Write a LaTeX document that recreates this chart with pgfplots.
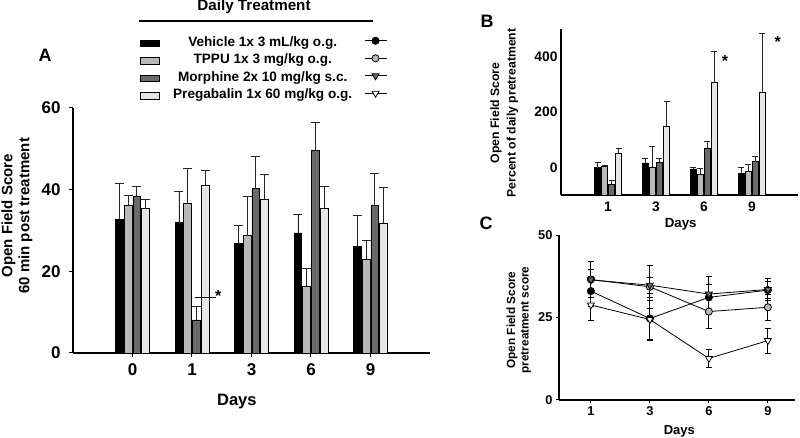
\documentclass[border=0pt]{standalone}
\usepackage{pgfplots}
\usepackage{pgfplotstable}
\pgfplotsset{compat=1.18}
\usepackage{fontspec}
\setmainfont{Liberation Sans}
\definecolor{cTPPU}{HTML}{B8B8B8}
\definecolor{cMor}{HTML}{6A6A6A}
\definecolor{cPre}{HTML}{E6E6E6}
\newcommand{\fs}[2]{\fontsize{#1}{#2}\selectfont\bfseries}

% Panel A: open field score 60 min post treatment
\pgfplotstableread{
x veh vehE tppu tppuE mor morE pre preE
0 32.8 8.8 36.2 2.4 38.3 2.4 35.4 2.3
1 31.9 7.7 36.6 8.5 8.1 3.2 41.1 3.6
2 26.9 4.4 28.7 9.6 40.2 7.9 37.7 6.1
3 29.4 4.5 16.3 4.3 49.6 6.9 35.5 5.3
4 26.2 7.5 22.9 4.6 36.2 7.8 31.8 8.8
}\dataA
% Panel B: percent of daily pretreatment
\pgfplotstableread{
x veh vehE tppu tppuE mor morE pre preE
0 -1 18 5 2 -61 12 51 18
1 16 15 0 75 19 15 149 88
2 -6 6 -27 23 70 23 306 112
3 -22 23 -16 27 20 21 271 213
}\dataB
% Panel C: pretreatment score
\pgfplotstableread{
x veh vehE tppu tppuE mor morE pre preE
0 33.0 4.5 36.5 5.4 36.4 3.2 28.8 4.8
1 24.7 6.5 34.3 6.6 34.8 2.5 24.4 5.9
2 31.1 4.0 26.8 5.1 32.1 5.3 12.6 2.6
3 33.3 2.5 28.1 3.9 33.5 3.4 18.0 3.8
}\dataC

\tikzset{legtext/.style={draw=none, fill=none, inner sep=0pt, outer sep=0pt,
    row sep=4pt, column sep=5pt, font=\fs{13.6}{16},
    nodes={inner sep=0pt, text height=10pt, text depth=3.5pt}}}
\pgfplotsset{
  panel/.style={scale only axis, axis x line*=bottom, axis y line*=left,
    axis line style={line width=1.1pt, black},
    tick style={black, line width=1pt}, tick align=outside,
    /pgf/number format/assume math mode=true, clip=false},
  swatch/.style={legend image code/.code={\draw[##1, line width=0.7pt] (0pt,-3.3pt) rectangle (19pt,3.3pt);}},
  errA/.style={error bars/.cd, y dir=plus, y explicit,
    error bar style={line width=0.8pt, black!85},
    error mark options={rotate=90, line width=0.8pt, black!85, mark size=#1}},
  errC/.style={error bars/.cd, y dir=both, y explicit,
    error bar style={line width=0.8pt, black},
    error mark options={rotate=90, line width=0.8pt, black, mark size=3pt}},
}

\begin{document}
\begin{tikzpicture}
\path[use as bounding box] (0pt,0pt) rectangle (800pt,438pt);

% ---------------- Panel A ----------------
\begin{axis}[panel, at={(73pt,85pt)}, anchor=south west, width=357pt, height=245pt,
  xmin=-1, xmax=5, ymin=0, ymax=60,
  xtick={0,1,2,3,4}, xticklabels={0,1,3,6,9}, ytick={0,20,40,60},
  major tick length=4pt,
  ticklabel style={font=\fs{17}{17}},
  yticklabel style={xshift=-5pt},
  xticklabel style={yshift=-3pt},
  ybar=0.9pt, bar width=7.8pt,
  xlabel={Days}, ylabel={Open Field Score\\60 min post treatment},
  xlabel style={font=\fs{16.5}{16.5}, at={(axis description cs:0.459,-0.199)}, anchor=center},
  ylabel style={font=\fs{15}{17}, align=center, at={(axis description cs:-0.157,0.56)}, anchor=center},
  legend style={legtext, at={(axis description cs:0.1877,1.292)}, anchor=north west},
  legend cell align=left,
]
\addplot[fill=black, draw=black, line width=0.7pt, swatch, errA=4.5pt] table[x=x,y=veh,y error=vehE]{\dataA};
\addlegendentry{\makebox[196pt][c]{Vehicle 1x 3 mL/kg o.g.}}
\addplot[fill=cTPPU, draw=black, line width=0.7pt, swatch, errA=4.5pt] table[x=x,y=tppu,y error=tppuE]{\dataA};
\addlegendentry{\makebox[196pt][c]{TPPU 1x 3 mg/kg o.g.}}
\addplot[fill=cMor, draw=black, line width=0.7pt, swatch, errA=4.5pt] table[x=x,y=mor,y error=morE]{\dataA};
\addlegendentry{\makebox[196pt][c]{Morphine 2x 10 mg/kg s.c.}}
\addplot[fill=cPre, draw=black, line width=0.7pt, swatch, errA=4.5pt] table[x=x,y=pre,y error=preE]{\dataA};
\addlegendentry{\makebox[196pt][c]{Pregabalin 1x 60 mg/kg o.g.}}
\draw[line width=1pt] (axis cs:1.046,13.5) -- (axis cs:1.40,13.5);
\node[font=\fs{16}{16}] at (axis cs:1.44,14.0) {*};
\end{axis}

% ---------------- Panel B ----------------
\begin{axis}[panel, at={(561pt,243pt)}, anchor=south west, width=237pt, height=166pt,
  xmin=-0.98, xmax=3.96, ymin=-100, ymax=500,
  y coord trafo/.code={\pgfmathparse{#1+100}},
  y coord inv trafo/.code={\pgfmathparse{#1-100}},
  xtick={0,1,2,3}, xticklabels={1,3,6,9}, ytick={0,200,400},
  major tick length=0pt,
  ticklabel style={font=\fs{13.8}{13.8}},
  xticklabel style={yshift=-3pt},
  ybar=1pt, bar width=6pt,
  xlabel={Days}, ylabel={Open Field Score\\Percent of daily pretreatment},
  xlabel style={font=\fs{13.3}{13.3}, at={(axis description cs:0.505,-0.178)}, anchor=center},
  ylabel style={font=\fs{12.2}{16.5}, align=center, at={(axis description cs:-0.24,0.494)}, anchor=center},
]
\addplot[fill=black, draw=black, line width=0.6pt, errA=3pt] table[x=x,y=veh,y error=vehE]{\dataB};
\addplot[fill=cTPPU, draw=black, line width=0.6pt, errA=3pt] table[x=x,y=tppu,y error=tppuE]{\dataB};
\addplot[fill=cMor, draw=black, line width=0.6pt, errA=3pt] table[x=x,y=mor,y error=morE]{\dataB};
\addplot[fill=cPre, draw=black, line width=0.6pt, errA=3pt] table[x=x,y=pre,y error=preE]{\dataB};
\node[font=\fs{16}{16}] at (axis cs:2.44,385) {*};
\node[font=\fs{16}{16}] at (axis cs:3.535,452) {*};
\end{axis}

% ---------------- Panel C ----------------
\begin{axis}[panel, at={(559pt,38pt)}, anchor=south west, width=236pt, height=165pt,
  xmin=-0.54, xmax=3.46, ymin=0, ymax=50,
  xtick={0,1,2,3}, xticklabels={1,3,6,9}, ytick={0,25,50},
  major tick length=3pt,
  ticklabel style={font=\fs{12.8}{12.8}},
  xlabel={Days}, ylabel={Open Field Score\\pretreatment score},
  xlabel style={font=\fs{13}{13}, at={(axis description cs:0.51,-0.188)}, anchor=center},
  ylabel style={font=\fs{11.8}{13.5}, align=center, at={(axis description cs:-0.17,0.485)}, anchor=center},
  legend style={legtext, at={(axis description cs:-0.729,2.218)}, anchor=north east},
  legend plot pos=right,
  legend image code/.code={\draw[mark repeat=2, mark phase=2, #1] plot coordinates {(0pt,0pt) (11pt,0pt) (22pt,0pt)};},
]
\addplot[black, line width=0.8pt, mark=*, mark size=3.6pt, mark options={fill=black, draw=black}, errC] table[x=x,y=veh,y error=vehE]{\dataC};
\addlegendentry{\relax}
\addplot[black, line width=0.8pt, mark=*, mark size=3.6pt, mark options={fill=cTPPU, draw=black}, errC] table[x=x,y=tppu,y error=tppuE]{\dataC};
\addlegendentry{\relax}
\addplot[black, line width=0.8pt, mark=triangle*, mark size=4pt, mark options={fill=cMor, draw=black, rotate=180}, errC] table[x=x,y=mor,y error=morE]{\dataC};
\addlegendentry{\relax}
\addplot[black, line width=0.8pt, mark=triangle*, mark size=4pt, mark options={fill=white, draw=black, rotate=180}, errC] table[x=x,y=pre,y error=preE]{\dataC};
\addlegendentry{\relax}
\end{axis}

% titles and panel letters
\node[font=\fs{15.2}{15.2}, anchor=base] at (254pt,427pt) {Daily Treatment};
\draw[line width=2pt] (139pt,417.3pt) -- (373pt,417.3pt);
\node[font=\fs{18}{18}] at (45pt,383pt) {A};
\node[font=\fs{18}{18}] at (487pt,416.3pt) {B};
\node[font=\fs{18}{18}] at (486pt,215pt) {C};
\end{tikzpicture}
\end{document}
